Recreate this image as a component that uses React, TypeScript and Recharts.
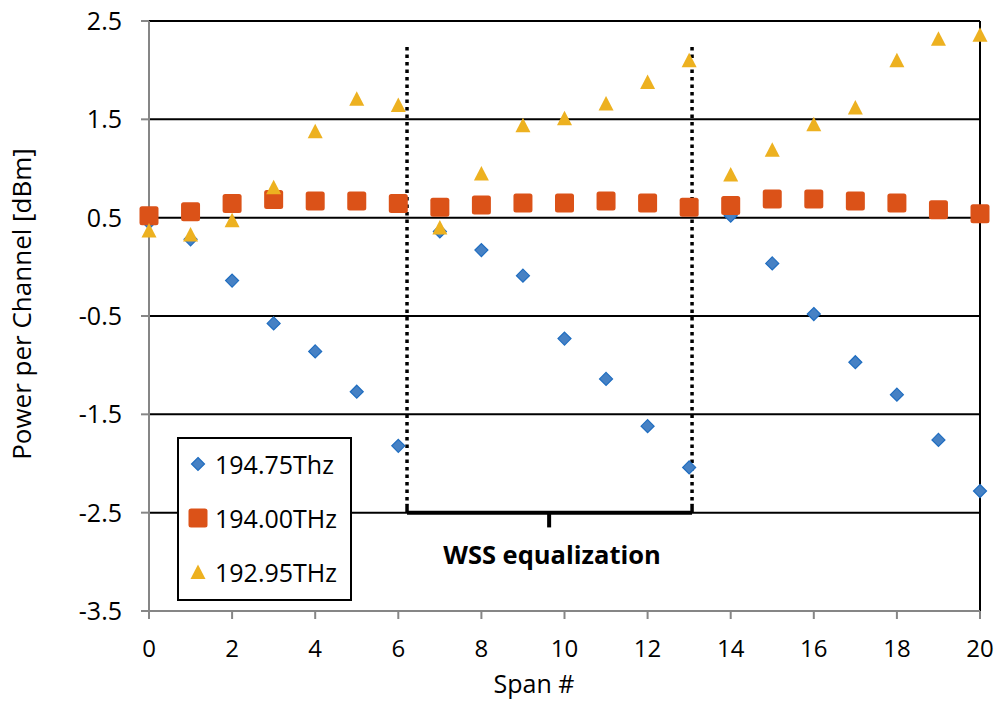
import {
  ScatterChart,
  Scatter,
  XAxis,
  YAxis,
  CartesianGrid,
  ReferenceLine,
  ReferenceDot,
  Legend,
} from "recharts";

const spans = [0, 1, 2, 3, 4, 5, 6, 7, 8, 9, 10, 11, 12, 13, 14, 15, 16, 17, 18, 19, 20];
const p19475 = [0.45, 0.28, -0.14, -0.575, -0.86, -1.27, -1.82, 0.36, 0.17, -0.09, -0.73, -1.14, -1.62, -2.04, 0.52, 0.035, -0.48, -0.97, -1.3, -1.76, -2.28];
const p19400 = [0.52, 0.56, 0.645, 0.686, 0.67, 0.67, 0.645, 0.605, 0.63, 0.65, 0.65, 0.67, 0.65, 0.605, 0.625, 0.69, 0.69, 0.67, 0.65, 0.58, 0.54];
const p19295 = [0.37, 0.33, 0.475, 0.81, 1.38, 1.71, 1.645, 0.4, 0.95, 1.44, 1.51, 1.66, 1.88, 2.1, 0.94, 1.19, 1.45, 1.62, 2.1, 2.32, 2.36];
const seriesNames = ["194.75Thz", "194.00THz", "192.95THz"];
const xTicks = [0, 2, 4, 6, 8, 10, 12, 14, 16, 18, 20];
const yTicks = [-3.5, -2.5, -1.5, -0.5, 0.5, 1.5, 2.5];

// WSS equalization bracket (span coords)
const eqFrom = 6.21;
const eqTo = 13.07;
const eqMid = 9.63;

const FONT = "'Open Sans', 'Noto Sans', sans-serif";
const BLUE = "#4681C4";
const ORANGE = "#DB5218";
const YELLOW = "#EDB120";

const toPoints = (vals: number[]) => spans.map((s, i) => ({ span: s, power: vals[i] }));

// eslint-disable-next-line @typescript-eslint/no-explicit-any
function DiamondDot({ cx, cy }: any) {
  const r = 6.5;
  return (
    <path
      d={`M${cx},${cy - r}L${cx + r},${cy}L${cx},${cy + r}L${cx - r},${cy}Z`}
      fill={BLUE}
      stroke="#1F6DC0"
      strokeWidth={1.2}
    />
  );
}

// eslint-disable-next-line @typescript-eslint/no-explicit-any
function SquareDot({ cx, cy }: any) {
  return <rect x={cx - 9.5} y={cy - 9.5} width={19} height={19} rx={2.5} fill={ORANGE} />;
}

// eslint-disable-next-line @typescript-eslint/no-explicit-any
function TriangleDot({ cx, cy }: any) {
  return <path d={`M${cx},${cy - 7.5}L${cx + 7.5},${cy + 7}L${cx - 7.5},${cy + 7}Z`} fill={YELLOW} />;
}

function LegendBox() {
  const icons = [
    <DiamondDot cx={11} cy={11} />,
    <SquareDot cx={11} cy={11} />,
    <TriangleDot cx={11} cy={11} />,
  ];
  return (
    <div
      style={{
        position: "relative",
        border: "2px solid #000",
        background: "#fff",
        width: 175,
        height: 164,
        boxSizing: "border-box",
        fontFamily: FONT,
        fontSize: 25,
        color: "#000",
      }}
    >
      {seriesNames.map((n, i) => (
        <div
          key={n}
          style={{ position: "absolute", left: 8, top: -2 + i * 54, height: 54, display: "flex", alignItems: "center", whiteSpace: "nowrap" }}
        >
          <svg width={22} height={22} style={{ marginRight: 6 }}>
            {icons[i]}
          </svg>
          <span>{n}</span>
        </div>
      ))}
    </div>
  );
}

const YLabel = () => (
  <text
    x={21}
    y={304}
    transform="rotate(-90 21 304)"
    textAnchor="middle"
    dominantBaseline="central"
    fontFamily={FONT}
    fontSize={26}
    fill="#000"
  >
    Power per Channel [dBm]
  </text>
);

const XLabel = () => (
  <text x={534} y={693} textAnchor="middle" fontFamily={FONT} fontSize={25} fill="#000">
    Span #
  </text>
);

export default function App() {
  return (
    <div style={{ position: "absolute", left: 0, top: 0, background: "#fff" }}>
      <ScatterChart width={999} height={702} margin={{ top: 21, right: 19, left: 0, bottom: 6 }}>
        <CartesianGrid vertical={false} stroke="#000" strokeWidth={2} />
        <XAxis
          type="number"
          dataKey="span"
          domain={[0, 20]}
          ticks={xTicks}
          height={85}
          stroke="#868686"
          strokeWidth={2}
          tickSize={8}
          tickMargin={21}
          tick={{ fill: "#000", fontSize: 24, fontFamily: FONT }}
          label={{ content: <XLabel /> }}
        />
        <YAxis
          type="number"
          dataKey="power"
          domain={[-3.5, 2.5]}
          ticks={yTicks}
          width={149}
          stroke="#868686"
          strokeWidth={2}
          tickSize={8}
          tickMargin={19}
          tickFormatter={(v: number) => v.toFixed(1)}
          tick={{ fill: "#000", fontSize: 25, fontFamily: FONT }}
          label={{ content: <YLabel /> }}
        />
        <ReferenceLine x={20} stroke="#000" strokeWidth={2} />
        <Scatter name={seriesNames[0]} data={toPoints(p19475)} shape={<DiamondDot />} isAnimationActive={false} />
        <Scatter name={seriesNames[1]} data={toPoints(p19400)} shape={<SquareDot />} isAnimationActive={false} />
        <Scatter name={seriesNames[2]} data={toPoints(p19295)} shape={<TriangleDot />} isAnimationActive={false} />
        <ReferenceLine
          segment={[{ x: eqFrom, y: 2.235 }, { x: eqFrom, y: -2.42 }]}
          stroke="#000"
          strokeWidth={3.5}
          strokeDasharray="3.5 4"
        />
        <ReferenceLine
          segment={[{ x: eqTo, y: 2.235 }, { x: eqTo, y: -2.42 }]}
          stroke="#000"
          strokeWidth={3.5}
          strokeDasharray="3.5 4"
        />
        <ReferenceLine segment={[{ x: eqFrom, y: -2.41 }, { x: eqFrom, y: -2.5 }]} stroke="#000" strokeWidth={3.5} />
        <ReferenceLine segment={[{ x: eqTo, y: -2.41 }, { x: eqTo, y: -2.5 }]} stroke="#000" strokeWidth={3.5} />
        <ReferenceLine segment={[{ x: eqFrom, y: -2.5 }, { x: eqTo, y: -2.5 }]} stroke="#000" strokeWidth={4} />
        <ReferenceLine segment={[{ x: eqMid, y: -2.5 }, { x: eqMid, y: -2.65 }]} stroke="#000" strokeWidth={4} />
        <ReferenceDot
          x={9.7}
          y={-2.93}
          r={1}
          fill="none"
          stroke="none"
          label={{ value: "WSS equalization", position: "center", fill: "#000", fontSize: 25.5, fontWeight: 700, fontFamily: FONT }}
        />
        <Legend
          layout="vertical"
          align="center"
          verticalAlign="middle"
          content={<LegendBox />}
          wrapperStyle={{ position: "absolute", left: 177, top: 437, width: 175, height: 164 }}
        />
      </ScatterChart>
    </div>
  );
}
